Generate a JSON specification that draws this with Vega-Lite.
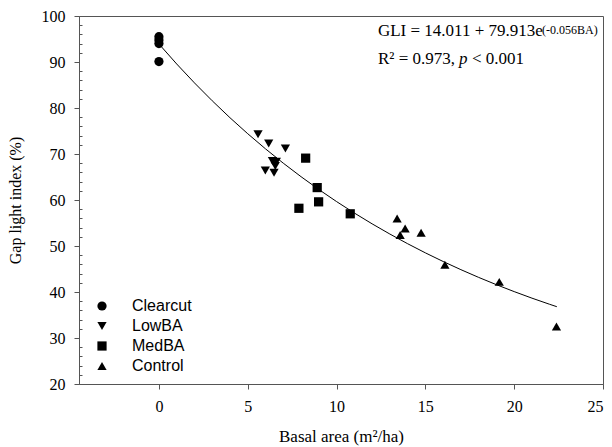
{
  "$schema": "https://vega.github.io/schema/vega-lite/v6.json",
  "width": 524,
  "height": 368,
  "autosize": "none",
  "padding": {"left": 79, "top": 16, "right": 9, "bottom": 63},
  "background": "white",
  "config": {
    "view": {"stroke": "#555", "strokeWidth": 1},
    "axis": {"grid": false, "domainColor": "#555", "tickColor": "#555", "labelColor": "black", "titleColor": "black",
      "labelFont": "Liberation Serif", "titleFont": "Liberation Serif", "labelFontSize": 16, "titleFontSize": 16, "titleFontWeight": "normal"}
  },
  "datasets": {
    "points": [
      {"ba": 0, "gli": 95.5, "group": "Clearcut"},
      {"ba": 0, "gli": 94.8, "group": "Clearcut"},
      {"ba": 0, "gli": 94.0, "group": "Clearcut"},
      {"ba": 0, "gli": 90.1, "group": "Clearcut"},
      {"ba": 5.58, "gli": 74.3, "group": "LowBA"},
      {"ba": 6.18, "gli": 72.3, "group": "LowBA"},
      {"ba": 7.12, "gli": 71.2, "group": "LowBA"},
      {"ba": 6.39, "gli": 68.5, "group": "LowBA"},
      {"ba": 6.61, "gli": 68.3, "group": "LowBA"},
      {"ba": 6.55, "gli": 67.4, "group": "LowBA"},
      {"ba": 5.99, "gli": 66.4, "group": "LowBA"},
      {"ba": 6.48, "gli": 65.9, "group": "LowBA"},
      {"ba": 8.26, "gli": 69.1, "group": "MedBA"},
      {"ba": 8.91, "gli": 62.7, "group": "MedBA"},
      {"ba": 8.99, "gli": 59.6, "group": "MedBA"},
      {"ba": 7.88, "gli": 58.2, "group": "MedBA"},
      {"ba": 10.77, "gli": 57.0, "group": "MedBA"},
      {"ba": 13.41, "gli": 56.0, "group": "Control"},
      {"ba": 13.86, "gli": 53.8, "group": "Control"},
      {"ba": 13.58, "gli": 52.4, "group": "Control"},
      {"ba": 14.76, "gli": 52.9, "group": "Control"},
      {"ba": 16.1, "gli": 45.9, "group": "Control"},
      {"ba": 19.16, "gli": 42.2, "group": "Control"},
      {"ba": 22.38, "gli": 32.5, "group": "Control"}
    ],
    "curve": [
      {"ba": 0, "gli": 93.924}, {"ba": 1, "gli": 89.572}, {"ba": 2, "gli": 85.457}, {"ba": 3, "gli": 81.566},
      {"ba": 4, "gli": 77.886}, {"ba": 5, "gli": 74.407}, {"ba": 6, "gli": 71.119}, {"ba": 7, "gli": 68.009},
      {"ba": 8, "gli": 65.068}, {"ba": 9, "gli": 62.287}, {"ba": 10, "gli": 59.658}, {"ba": 11, "gli": 57.172},
      {"ba": 12, "gli": 54.822}, {"ba": 13, "gli": 52.599}, {"ba": 14, "gli": 50.498}, {"ba": 15, "gli": 48.510},
      {"ba": 16, "gli": 46.632}, {"ba": 17, "gli": 44.855}, {"ba": 18, "gli": 43.175}, {"ba": 19, "gli": 41.587},
      {"ba": 20, "gli": 40.085}, {"ba": 21, "gli": 38.665}, {"ba": 22, "gli": 37.323}, {"ba": 22.4, "gli": 36.804}
    ],
    "textNormal": [
      {"ba": 12.33, "gli": 95.65, "label": "GLI = 14.011 + 79.913e"},
      {"ba": 12.33, "gli": 89.57, "label": "R² = 0.973,"},
      {"ba": 17.62, "gli": 89.57, "label": "< 0.001"}
    ],
    "textSup": [
      {"ba": 21.57, "gli": 96.0, "label": "(-0.056BA)"}
    ],
    "textItalic": [
      {"ba": 16.89, "gli": 89.57, "label": "p"}
    ]
  },
  "encoding": {
    "x": {"field": "ba", "type": "quantitative",
      "scale": {"domain": [-4.5, 25], "nice": false, "zero": false},
      "axis": {"values": [0,5,10,15,20,25], "tickSize": 5, "labelPadding": 9, "title": "Basal area (m²/ha)", "titleFontSize": 17, "titlePadding": 14}},
    "y": {"field": "gli", "type": "quantitative",
      "scale": {"domain": [20, 100], "nice": false, "zero": false},
      "axis": {"orient": "left",
        "values": [20,22,24,26,28,30,32,34,36,38,40,42,44,46,48,50,52,54,56,58,60,62,64,66,68,70,72,74,76,78,80,82,84,86,88,90,92,94,96,98,100],
        "labelExpr": "datum.value % 10 === 0 ? datum.label : ''",
        "tickSize": {"condition": {"test": "datum.value % 10 === 0", "value": 5}, "value": -3},
        "labelPadding": 9, "title": "Gap light index (%)", "titlePadding": 18}}
  },
  "layer": [
    {
      "data": {"name": "curve"},
      "mark": {"type": "line", "color": "black", "strokeWidth": 1}
    },
    {
      "data": {"name": "points"},
      "mark": {"type": "point", "filled": true, "color": "black", "opacity": 1, "size": 85},
      "encoding": {
        "shape": {"field": "group", "type": "nominal",
          "scale": {"domain": ["Clearcut", "LowBA", "MedBA", "Control"], "range": ["circle", "triangle-down", "square", "triangle-up"]},
          "legend": {"orient": "none", "legendX": 15, "legendY": 282, "title": null, "padding": 0,
            "labelFont": "Liberation Sans", "labelFontSize": 16, "labelColor": "black", "labelOffset": 22,
            "symbolSize": 85, "symbolFillColor": "black", "symbolStrokeColor": "black", "rowPadding": 4}}
      }
    },
    {
      "data": {"name": "textNormal"},
      "mark": {"type": "text", "align": "left", "baseline": "alphabetic", "font": "Liberation Serif", "fontSize": 17, "color": "black"},
      "encoding": {"text": {"field": "label"}}
    },
    {
      "data": {"name": "textSup"},
      "mark": {"type": "text", "align": "left", "baseline": "alphabetic", "font": "Liberation Serif", "fontSize": 12, "color": "black"},
      "encoding": {"text": {"field": "label"}}
    },
    {
      "data": {"name": "textItalic"},
      "mark": {"type": "text", "align": "left", "baseline": "alphabetic", "font": "Liberation Serif", "fontStyle": "italic", "fontSize": 17, "color": "black"},
      "encoding": {"text": {"field": "label"}}
    }
  ]
}
